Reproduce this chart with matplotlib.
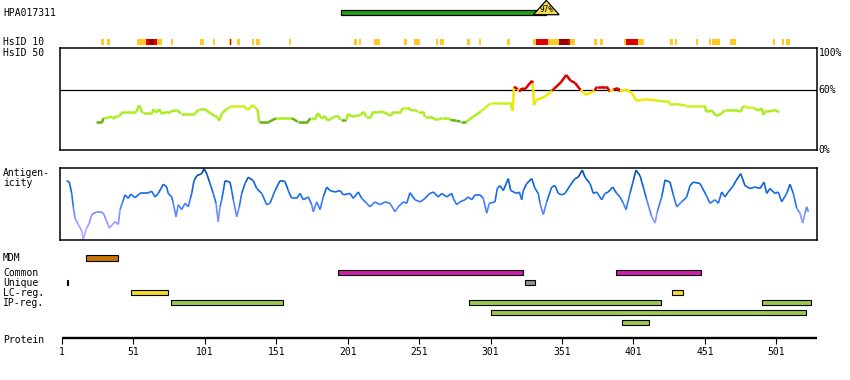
import matplotlib
matplotlib.use("Agg")
import matplotlib.pyplot as plt
from matplotlib.patches import Rectangle, Polygon
from matplotlib.collections import LineCollection
from matplotlib.colors import LinearSegmentedColormap
import numpy as np

# ---- data (residue positions) ----
protein_len = 529.5
tick_pos = [1, 51, 101, 151, 201, 251, 301, 351, 401, 451, 501]

hpa_name = "HPA017311"
hpa_start, hpa_end, hpa_mid = 196, 349, 340
hpa_identity = "97%"

# HsID 10 marks, level 1 = orange, 2 = red, 3 = dark red
hsid_start = [28.3, 32.5, 53.7, 59.8, 61.9, 65.4, 67.5, 77.3, 97.6, 106.7, 117.9, 118.6,
              119.3, 123.5, 134.0, 136.8, 159.9, 205.4, 208.9, 219.4, 240.4, 247.4, 262.8,
              265.6, 284.5, 292.9, 312.5, 330.7, 332.8, 341.2, 348.9, 355.2, 356.6, 373.4,
              377.6, 394.4, 395.8, 404.2, 426.6, 430.1, 444.8, 453.9, 456.0, 468.6, 498.7,
              505.0, 507.8]
hsid_end = [30.4, 34.6, 59.8, 61.9, 65.4, 67.5, 71.0, 78.7, 100.4, 108.1, 118.6, 119.3,
            120.0, 125.6, 135.4, 139.6, 161.3, 207.5, 210.3, 223.6, 242.5, 251.6, 264.2,
            268.4, 286.6, 294.3, 314.6, 332.8, 341.2, 348.9, 355.2, 356.6, 360.1, 375.5,
            379.7, 395.8, 404.2, 408.4, 428.7, 431.5, 446.2, 455.3, 461.6, 472.8, 500.1,
            506.4, 510.6]
hsid_level = [1, 1, 1, 2, 3, 2, 1, 1, 1, 1, 1, 2, 1, 1, 1, 1, 1, 1, 1, 1, 1, 1, 1, 1,
              1, 1, 1, 1, 2, 1, 3, 2, 1, 1, 1, 1, 2, 1, 1, 1, 1, 1, 1, 1, 1, 1, 1]

# HsID 50 similarity (%)
sim_res = [25, 29, 30, 33, 36, 37, 39, 41, 44, 53, 55, 57.5, 64, 65, 67, 69, 71, 74, 75, 78,
           82, 84, 94, 97, 101, 105, 108, 110, 111, 113, 117, 121, 128, 131, 134.5, 138, 139,
           146, 151, 162, 166, 173, 175, 177, 178, 180, 183, 185, 187, 191, 194, 196, 200,
           201, 204, 210, 212, 214, 217, 219, 221, 225, 228, 231, 233, 238, 240, 243, 246,
           248, 250, 254, 255, 259, 263, 267, 271, 273, 277, 280, 284, 289, 294, 301, 315,
           316.5, 317.4, 320, 321, 323, 325, 330, 330.5, 331.4, 333, 339, 344, 345, 350, 354,
           357, 360, 364, 368, 374, 375.3, 379, 381, 382.3, 384.6, 387, 390.4, 391.6, 396,
           400, 403, 410, 418, 426, 427, 431, 438, 451, 452, 456, 459, 463, 465, 472, 476,
           478, 480, 486, 488, 491, 492, 493, 498, 500, 503]
sim_pct = [27.8, 27.8, 31.9, 32.5, 33.5, 31.2, 34.2, 34.2, 38.5, 38.5, 44.9, 36.9, 36.9,
           40.9, 37.5, 40.9, 36.2, 38.5, 36.9, 39.2, 39.9, 36.5, 36.5, 40.9, 40.9, 36.9, 34.2,
           32.9, 29.4, 36.9, 41.9, 44.5, 44.5, 40.2, 45.2, 40.2, 28.4, 28.4, 31.9, 31.9, 28.4,
           28.4, 31.9, 31.9, 30.2, 36.9, 31.5, 34.2, 29.4, 32.9, 34.2, 30.2, 30.2, 36.2, 33.5,
           35.2, 38.5, 33.5, 33.5, 38.5, 37.5, 38.5, 36.9, 34.2, 38.5, 38.5, 42.5, 42.5, 39.5,
           40.2, 38.5, 38.5, 33.5, 33.5, 30.2, 31.9, 31.9, 30.2, 29.4, 28.4, 28.4, 33.5, 38.5,
           46.9, 46.9, 39.2, 63.6, 61.0, 58.6, 62.0, 61.0, 69.6, 67.0, 45.2, 50.3, 53.6, 59.6,
           61.0, 67.6, 75.4, 69.6, 67.6, 60.3, 55.3, 59.6, 63.6, 63.6, 62.0, 63.6, 58.6, 61.0,
           62.0, 58.6, 61.0, 57.0, 49.5, 51.0, 49.5, 48.5, 45.2, 46.2, 44.5, 44.5, 38.5, 39.5,
           34.2, 36.9, 40.2, 40.2, 38.5, 44.2, 42.9, 41.9, 39.5, 41.9, 35.2, 38.5, 39.2, 40.2,
           37.9]

# antigenicity (relative, 0..1)
ag_res = [4.3, 6.1, 7.8, 8.9, 10.1, 12.4, 14.8, 15.9, 17.8, 20.1, 21.8, 25.3, 27.6, 29.9,
          31.8, 34.1, 36.5, 38.1, 40.4, 41.6, 43.5, 45.1, 47.4, 49.1, 52.1, 55.6, 60.3, 63.8,
          66.1, 68.4, 71.9, 74.3, 75.4, 77.8, 78.9, 80.8, 82.4, 84.8, 87.1, 89.4, 90.6, 91.8,
          93.4, 95.3, 98.8, 100.4, 102.3, 104.6, 106.9, 108.8, 110.4, 111.6, 112.8, 114.4,
          115.1, 118.6, 119.8, 120.9, 123.3, 125.1, 126.8, 129.1, 131.4, 134.9, 137.3, 140.8,
          144.3, 146.6, 150.1, 153.6, 157.1, 159.4, 161.8, 165.3, 167.6, 169.9, 173.4, 175.8,
          176.9, 179.3, 181.6, 183.9, 186.3, 188.6, 192.1, 195.6, 197.9, 202.6, 204.9, 208.4,
          210.8, 214.3, 216.6, 220.1, 223.6, 227.1, 230.6, 234.1, 236.4, 239.9, 242.3, 244.6,
          248.1, 251.6, 253.9, 255.1, 257.4, 258.6, 260.9, 264.4, 266.8, 270.3, 273.8, 274.9,
          277.3, 279.6, 283.1, 285.4, 287.8, 290.1, 293.6, 295.9, 298.3, 300.1, 304.1, 305.7,
          307.6, 309.9, 313.4, 315.1, 319.3, 321.1, 322.8, 323.9, 326.3, 329.8, 332.1, 334.4,
          335.6, 337.9, 340.3, 343.8, 346.1, 348.4, 350.8, 353.1, 356.6, 360.1, 362.4, 365.2,
          367.1, 370.6, 372.9, 375.3, 378.8, 381.1, 383.4, 386.5, 389.3, 391.6, 393.9, 395.8,
          398.6, 400.9, 402.8, 405.6, 407.9, 410.3, 413.8, 416.1, 417.7, 420.8, 423.1, 426.6,
          428.9, 431.3, 434.8, 438.3, 440.6, 442.9, 447.6, 451.8, 454.6, 458.1, 460.4, 462.8,
          465.1, 467.4, 470.9, 472.8, 476.1, 479.1, 482.6, 486.1, 489.6, 492.4, 494.3, 496.6,
          500.1, 502.4, 504.8, 508.3, 510.6, 512.9, 515.3, 517.6, 519.5, 521.1, 522.3, 523.5]
ag_val = [0.83, 0.81, 0.65, 0.46, 0.30, 0.21, 0.12, 0.0, 0.14, 0.23, 0.35, 0.39, 0.39, 0.37,
          0.28, 0.16, 0.21, 0.25, 0.21, 0.42, 0.53, 0.63, 0.58, 0.64, 0.59, 0.65, 0.65, 0.68,
          0.60, 0.65, 0.78, 0.74, 0.65, 0.60, 0.51, 0.32, 0.49, 0.42, 0.51, 0.46, 0.56, 0.65,
          0.83, 0.90, 0.93, 1.0, 0.93, 0.79, 0.65, 0.51, 0.25, 0.46, 0.56, 0.74, 0.83, 0.81,
          0.69, 0.56, 0.32, 0.46, 0.65, 0.79, 0.88, 0.83, 0.72, 0.65, 0.49, 0.51, 0.69, 0.83,
          0.82, 0.69, 0.58, 0.58, 0.65, 0.56, 0.60, 0.49, 0.39, 0.53, 0.42, 0.60, 0.74, 0.69,
          0.67, 0.69, 0.63, 0.65, 0.58, 0.67, 0.58, 0.51, 0.46, 0.53, 0.49, 0.53, 0.51, 0.39,
          0.46, 0.53, 0.51, 0.66, 0.56, 0.53, 0.56, 0.58, 0.63, 0.65, 0.67, 0.60, 0.65, 0.60,
          0.65, 0.58, 0.49, 0.53, 0.56, 0.60, 0.56, 0.63, 0.63, 0.58, 0.37, 0.51, 0.53, 0.72,
          0.76, 0.69, 0.86, 0.69, 0.65, 0.67, 0.56, 0.69, 0.79, 0.86, 0.72, 0.65, 0.51, 0.35,
          0.53, 0.74, 0.76, 0.65, 0.63, 0.65, 0.76, 0.86, 0.88, 0.98, 0.88, 0.79, 0.65, 0.67,
          0.56, 0.65, 0.67, 0.74, 0.65, 0.60, 0.51, 0.42, 0.65, 0.83, 0.98, 0.90, 0.74, 0.56,
          0.32, 0.23, 0.39, 0.60, 0.84, 0.81, 0.63, 0.46, 0.53, 0.60, 0.76, 0.81, 0.79, 0.63,
          0.51, 0.56, 0.51, 0.67, 0.60, 0.67, 0.76, 0.83, 0.93, 0.76, 0.72, 0.74, 0.72, 0.81,
          0.65, 0.72, 0.65, 0.67, 0.53, 0.65, 0.78, 0.65, 0.44, 0.37, 0.23, 0.37, 0.46, 0.39]

# feature tracks
mdm_start, mdm_end = [18], [40]
common_start, common_end = [194, 389], [324, 448]
unique_start, unique_end = [4.6, 325], [5.3, 332]
lc_start, lc_end = [49.5, 428], [75, 435.5]
ip_start = [77.5, 286, 491, 301, 393]
ip_end = [156, 420, 525, 522, 412]
ip_row = [0, 0, 0, 1, 2]

# ---- layout ----
W, H = 850, 380
fig = plt.figure(figsize=(8.5, 3.8), dpi=100)
FONT = dict(family="DejaVu Sans Mono", fontsize=7, color="black")


def box(x0, y0, x1, y1):
    return [x0 / W, 1 - y1 / H, (x1 - x0) / W, (y1 - y0) / H]


XLIM = (-0.4, 529.5)

# overlay axes for marks in pixel-rows
ax = fig.add_axes(box(60, 0, 817, 380))
ax.set_xlim(*XLIM)
ax.set_ylim(380, 0)
ax.axis("off")

# HPA antigen bar
ax.add_patch(Rectangle((hpa_start, 10.3), hpa_mid - hpa_start, 4.4,
                       facecolor="#22A01E", edgecolor="black", lw=0.9))
ax.add_patch(Polygon([(hpa_mid - 9, 14.7), (hpa_mid, 0.3), (hpa_end, 14.7)],
                     closed=True, facecolor="#F5DC50", edgecolor="black", lw=0.9))
ax.text(hpa_mid, 9.5, hpa_identity, ha="center", va="center",
        family="DejaVu Sans Mono", fontsize=5.5)

# HsID 10 marks
lvl_col = {1: "#FFC825", 2: "#DD0000", 3: "#990000"}
for s, e, l in zip(hsid_start, hsid_end, hsid_level):
    ax.add_patch(Rectangle((s, 39.3), e - s, 5.7, facecolor=lvl_col[l], lw=0))


# feature bars
def bars(starts, ends, yc, color, h=4.7):
    for s, e in zip(starts, ends):
        ax.add_patch(Rectangle((s, yc - h / 2), e - s, h, facecolor=color,
                               edgecolor="black", lw=0.8))


bars(mdm_start, mdm_end, 257.8, "#C87408", h=5.5)
bars(common_start, common_end, 272.3, "#CC22AA")
bars(unique_start, unique_end, 282.3, "#909090")
bars(lc_start, lc_end, 292.3, "#F0DC28")
for s, e, r in zip(ip_start, ip_end, ip_row):
    bars([s], [e], 302.3 + 10 * r, "#9CC850")

# protein axis
ax.hlines(338.4, 1, protein_len, color="black", lw=1.7)
ax.vlines(tick_pos + [protein_len], 338.4, 343.8, color="black", lw=0.8)
for t in tick_pos:
    ax.text(t, 352, str(t), ha="center", va="center", **FONT)

# similarity panel
ax_s = fig.add_axes(box(60, 48, 817, 150))
ax_s.set_xlim(*XLIM)
ax_s.set_ylim(0, 102.5)
ax_s.set_xticks([])
ax_s.set_yticks([])
for sp in ax_s.spines.values():
    sp.set_linewidth(1.1)
ax_s.axhline(60, color="black", lw=0.9)


def sim_color(v):
    if v >= 60:
        return "#DD0000"
    if v >= 50:
        return "#F2E800"
    if v >= 42:
        return "#CCF01E"
    if v >= 30.8:
        return "#AAEE22"
    return "#62B412"


pts = np.column_stack([sim_res, sim_pct])
segs = np.stack([pts[:-1], pts[1:]], axis=1)
cols = [sim_color((a + b) / 2) for a, b in zip(sim_pct[:-1], sim_pct[1:])]
ax_s.add_collection(LineCollection(segs, colors=cols, linewidths=1.8))

for val, lab, va in [(102.5, "100%", "top"), (60, "60%", "center"), (0, "0%", "center")]:
    ax_s.text(1.002, val, lab, transform=ax_s.get_yaxis_transform(),
              ha="left", va=va, **FONT)

# antigenicity panel
ax_a = fig.add_axes(box(60, 168, 817, 240))
ax_a.set_xlim(*XLIM)
ax_a.set_ylim(-0.01, 1.01)
ax_a.set_xticks([])
ax_a.set_yticks([])
for sp in ax_a.spines.values():
    sp.set_linewidth(1.1)

ag_cmap = LinearSegmentedColormap.from_list(
    "ag", [(0, "#B4ACFF"), (0.3, "#8C96FF"), (0.45, "#4D84FF"),
           (0.6, "#1A6EEE"), (0.8, "#0A60D8"), (1.0, "#00449C")])
pts = np.column_stack([ag_res, ag_val])
segs = np.stack([pts[:-1], pts[1:]], axis=1)
mid = (np.array(ag_val[:-1]) + np.array(ag_val[1:])) / 2
ax_a.add_collection(LineCollection(segs, colors=ag_cmap(mid), linewidths=1.2))

# left labels
def label(y, txt):
    fig.text(3 / W, 1 - y / H, txt, ha="left", va="center", **FONT)


label(13, hpa_name)
label(42, "HsID 10")
label(52.5, "HsID 50")
label(172.5, "Antigen-")
label(183, "icity")
label(257.7, "MDM")
label(272.7, "Common")
label(282.7, "Unique")
label(292.7, "LC-reg.")
label(302.7, "IP-reg.")
label(340, "Protein")

fig.savefig("out.png", dpi=100)
